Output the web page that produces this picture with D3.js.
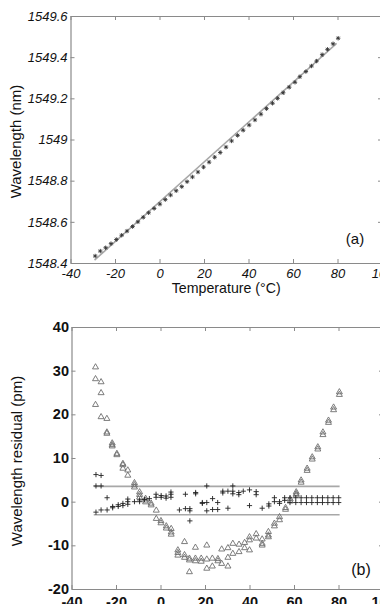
<!DOCTYPE html>
<html><head><meta charset="utf-8">
<script src="https://cdn.jsdelivr.net/npm/d3@7/dist/d3.min.js"></script>
<style>
html,body{margin:0;padding:0;background:#fff;}
svg{display:block;font-family:"Liberation Sans",Arial,sans-serif;}
</style></head>
<body>
<svg id="c" width="380" height="604"></svg>
<script>
// ---------- Panel (a) data ----------
const tempA = [-28.9,-26.6,-24.2,-21.8,-19.4,-17.0,-14.6,-12.1,-9.7,-7.3,-4.9,-2.4,0.2,2.6,5.0,7.5,10.0,12.4,14.8,17.3,19.8,22.3,24.8,27.3,29.9,32.4,35.1,37.6,40.3,42.9,45.6,48.1,50.8,53.1,55.6,58.3,60.9,63.1,65.8,68.3,70.6,73.1,75.5,78.0,80.3];
const wavelengthA = [1548.434,1548.458,1548.474,1548.494,1548.514,1548.535,1548.555,1548.577,1548.600,1548.622,1548.644,1548.665,1548.686,1548.708,1548.730,1548.751,1548.771,1548.795,1548.818,1548.842,1548.866,1548.890,1548.914,1548.937,1548.963,1548.993,1549.020,1549.045,1549.070,1549.095,1549.123,1549.150,1549.176,1549.200,1549.227,1549.254,1549.278,1549.305,1549.330,1549.357,1549.381,1549.412,1549.438,1549.465,1549.492];
const fitT = [-29.2, 79.6];
const fitW = [1548.414, 1549.467];
const xTicks = [-40,-20,0,20,40,60,80,100];
const xTickLabels = ["-40","-20","0","20","40","60","80","100"];
const yTicksA = [1548.4,1548.6,1548.8,1549.0,1549.2,1549.4,1549.6];
const yTickLabelsA = ["1548.4","1548.6","1548.8","1549","1549.2","1549.4","1549.6"];

// ---------- Panel (b) data ----------
const triT = [-29.2,-29.2,-29.2,-26.7,-26.7,-26.7,-24.1,-24.1,-24.1,-21.7,-21.7,-21.7,-19.6,-19.6,-16.9,-16.9,-16.9,-14.7,-14.7,-11.7,-11.7,-11.7,-9.4,-9.4,-9.4,-6.7,-6.7,-6.7,-4.2,-4.2,-1.9,-1.9,0.2,0.2,2.6,2.6,4.8,4.8,4.8,7.8,7.8,7.8,10.8,10.8,10.8,13.0,13.0,13.0,15.7,15.7,15.7,18.3,18.3,20.8,20.8,20.8,23.3,23.3,25.8,25.8,27.5,27.5,30.3,30.3,30.3,32.5,32.5,35.3,35.3,37.8,37.8,40.0,40.0,40.0,43.0,43.0,45.7,45.7,45.7,48.5,48.5,48.5,51.2,51.2,53.5,53.5,56.2,56.2,58.3,58.3,61.0,61.0,61.0,63.2,63.2,65.9,65.9,68.2,68.2,70.7,70.7,73.0,73.0,75.5,75.5,77.8,77.8,80.4,80.4];
const triR = [31.0,28.3,22.4,27.6,25.1,19.6,19.2,16.1,15.8,13.6,13.2,12.9,11.2,10.9,8.9,8.6,7.8,7.4,6.2,4.5,4.0,3.5,2.4,1.8,1.2,0.9,0.5,0.1,-0.2,-0.6,-1.8,-3.7,-4.2,-4.7,-5.4,-5.9,-6.0,-6.8,-7.3,-10.9,-11.5,-12.1,-9.0,-12.0,-12.6,-12.8,-13.2,-15.9,-10.3,-12.8,-13.4,-12.8,-13.5,-9.8,-13.0,-15.1,-12.8,-14.6,-12.9,-13.4,-10.7,-14.0,-10.4,-12.6,-14.6,-9.4,-11.7,-9.6,-11.3,-9.2,-10.4,-7.9,-8.6,-10.9,-7.2,-8.2,-8.4,-9.4,-9.8,-6.7,-7.5,-7.9,-4.8,-5.4,-3.3,-4.0,-1.2,-1.6,0.8,0.3,2.4,2.0,1.7,5.1,4.6,7.8,7.3,10.4,9.9,12.7,12.2,16.1,15.5,18.8,18.3,21.8,21.2,25.3,24.7];
const plusT = [-29.0,-29.0,-29.0,-26.7,-26.7,-26.7,-24.0,-24.0,-21.5,-21.5,-19.0,-19.0,-16.9,-16.9,-14.7,-14.7,-14.7,-11.7,-9.4,-9.4,-7.2,-5.0,-2.0,-2.0,0.3,0.3,2.5,2.5,4.7,4.7,4.7,8.5,11.2,11.2,13.2,13.2,13.2,15.8,15.8,18.8,18.8,20.8,20.8,20.8,23.4,23.4,25.7,25.7,28.0,28.0,30.3,30.3,32.5,32.5,32.5,35.2,35.2,37.2,40.0,40.0,43.0,43.0,45.7,48.7,48.7,51.2,51.2,53.5,53.5,55.8,55.8,58.2,58.2,60.8,60.8,63.2,63.2,65.6,65.6,68.0,68.0,70.5,70.5,72.8,72.8,75.2,75.2,77.6,77.6,80.1,80.1];
const plusR = [6.2,3.6,-2.4,6.0,3.6,-1.9,0.9,-1.9,-1.4,-1.1,-1.1,-0.7,-0.9,-0.4,-0.6,0.0,0.6,0.0,0.0,0.4,0.5,0.7,1.7,1.0,1.4,1.0,1.3,0.8,2.2,1.7,1.0,-1.9,1.7,-1.6,-1.6,-4.4,-2.1,1.8,2.1,-0.2,-0.4,3.6,-0.2,-2.1,0.7,-1.8,-0.2,-1.8,2.4,2.0,2.4,-1.5,3.6,2.4,1.8,2.1,1.6,2.4,2.7,-0.9,2.3,1.6,-1.5,-0.5,-1.0,0.0,0.9,0.0,-0.4,0.9,0.3,0.9,-0.2,0.9,-0.2,0.9,-0.2,0.9,-0.2,0.9,-0.2,0.9,-0.2,0.9,-0.2,0.9,-0.2,0.9,-0.2,0.9,-0.2];
const bandT = [-30, 80.5];
const bandLevels = [3.5, -3.0];
const yTicksB = [-20,-10,0,10,20,30,40];
const yTickLabelsB = ["-20","-10","0","10","20","30","40"];

const svg = d3.select("#c");
svg.append("rect").attr("width",380).attr("height",604).attr("fill","#fff");

const axisCol = "#8a8a8a";
function styleAxis(g){
  g.selectAll(".domain").attr("stroke",axisCol).attr("stroke-width",1.2);
  g.selectAll(".tick line").attr("stroke",axisCol).attr("stroke-width",1);
}

// ---------- Panel (a) ----------
const xA = d3.scaleLinear().domain([-40,100]).range([70.5,382]);
const yA = d3.scaleLinear().domain([1548.4,1549.6]).range([263,16]);

const gA = svg.append("g");
gA.append("g").attr("transform",`translate(0,${yA(1549.6)})`)
  .call(d3.axisTop(xA).tickValues(xTicks).tickSizeInner(-4).tickSizeOuter(0).tickFormat(""))
  .call(styleAxis);
gA.append("g").attr("transform",`translate(${xA(100)},0)`)
  .call(d3.axisRight(yA).tickValues(yTicksA).tickSizeInner(-4).tickSizeOuter(0).tickFormat(""))
  .call(styleAxis);
const axA_x = gA.append("g").attr("transform",`translate(0,${yA(1548.4)})`)
  .call(d3.axisBottom(xA).tickValues(xTicks).tickSizeInner(-4).tickSizeOuter(0).tickPadding(5.5)
    .tickFormat((d,i)=>xTickLabels[i]))
  .call(styleAxis);
const axA_y = gA.append("g").attr("transform",`translate(${xA(-40)},0)`)
  .call(d3.axisLeft(yA).tickValues(yTicksA).tickSizeInner(-4).tickSizeOuter(0).tickPadding(3)
    .tickFormat((d,i)=>yTickLabelsA[i]))
  .call(styleAxis);
[axA_x,axA_y].forEach(a=>a.selectAll("text").attr("font-family","Liberation Sans, Arial, sans-serif")
  .attr("font-size",13).attr("font-style","italic").attr("fill","#111"));

gA.append("line")
  .attr("x1",xA(fitT[0])).attr("y1",yA(fitW[0]))
  .attr("x2",xA(fitT[1])).attr("y2",yA(fitW[1]))
  .attr("stroke","#a8a8a8").attr("stroke-width",1.6);

const ptsA = gA.append("g");
tempA.forEach((t,i)=>{
  const cx = xA(t), cy = yA(wavelengthA[i]), s=2.2;
  ptsA.append("path")
    .attr("d",`M${cx-s},${cy}H${cx+s}M${cx},${cy-s}V${cy+s}M${cx-s*0.7},${cy-s*0.7}L${cx+s*0.7},${cy+s*0.7}M${cx-s*0.7},${cy+s*0.7}L${cx+s*0.7},${cy-s*0.7}`)
    .attr("stroke","#333").attr("stroke-width",0.9).attr("fill","none");
});

gA.append("text").attr("x",(xA(-40)+xA(100))/2).attr("y",292.5)
  .attr("text-anchor","middle").attr("font-size",14.2).attr("fill","#111")
  .text("Temperature (°C)");
gA.append("text").attr("transform","translate(21,141.5) rotate(-90)")
  .attr("text-anchor","middle").attr("font-size",15).attr("fill","#111")
  .text("Wavelength (nm)");
gA.append("text").attr("x",355).attr("y",244).attr("text-anchor","middle")
  .attr("font-size",15).attr("fill","#111").text("(a)");

// ---------- Panel (b) ----------
const xB = d3.scaleLinear().domain([-40,100]).range([71.5,383]);
const yB = d3.scaleLinear().domain([-20,40]).range([589,327]);
const gB = svg.append("g");
gB.append("g").attr("transform",`translate(0,${yB(40)})`)
  .call(d3.axisTop(xB).tickValues(xTicks).tickSizeInner(-4).tickSizeOuter(0).tickFormat(""))
  .call(styleAxis);
gB.append("g").attr("transform",`translate(${xB(100)},0)`)
  .call(d3.axisRight(yB).tickValues(yTicksB).tickSizeInner(-4).tickSizeOuter(0).tickFormat(""))
  .call(styleAxis);
const axB_x = gB.append("g").attr("transform",`translate(0,${yB(-20)})`)
  .call(d3.axisBottom(xB).tickValues(xTicks).tickSizeInner(-4).tickSizeOuter(0).tickPadding(7.5)
    .tickFormat((d,i)=>xTickLabels[i]))
  .call(styleAxis);
const axB_y = gB.append("g").attr("transform",`translate(${xB(-40)},0)`)
  .call(d3.axisLeft(yB).tickValues(yTicksB).tickSizeInner(-4).tickSizeOuter(0).tickPadding(2.5)
    .tickFormat((d,i)=>yTickLabelsB[i]))
  .call(styleAxis);
[axB_x,axB_y].forEach(a=>a.selectAll("text").attr("font-family","Liberation Sans, Arial, sans-serif")
  .attr("font-size",14.5).attr("font-weight","bold").attr("fill","#111"));

bandLevels.forEach(v=>{
  gB.append("line").attr("x1",xB(bandT[0])).attr("x2",xB(bandT[1]))
    .attr("y1",yB(v)).attr("y2",yB(v))
    .attr("stroke","#a8a8a8").attr("stroke-width",1.6);
});

const triG = gB.append("g");
triT.forEach((t,i)=>{
  const cx=xB(t), cy=yB(triR[i]), w=3, h=2.6;
  triG.append("path")
    .attr("d",`M${cx},${cy-h}L${cx+w},${cy+h}L${cx-w},${cy+h}Z`)
    .attr("fill","none").attr("stroke","#6e6e6e").attr("stroke-width",0.9);
});
const plG = gB.append("g");
plusT.forEach((t,i)=>{
  const cx=xB(t), cy=yB(plusR[i]), s=2.6;
  plG.append("path")
    .attr("d",`M${cx-s},${cy}H${cx+s}M${cx},${cy-s}V${cy+s}`)
    .attr("fill","none").attr("stroke","#222").attr("stroke-width",0.9);
});

gB.append("text").attr("transform","translate(22,461) rotate(-90)")
  .attr("text-anchor","middle").attr("font-size",15).attr("fill","#111")
  .text("Wavelength residual (pm)");
gB.append("text").attr("x",361).attr("y",575).attr("text-anchor","middle")
  .attr("font-size",16).attr("fill","#111").text("(b)");
</script>
</body></html>
